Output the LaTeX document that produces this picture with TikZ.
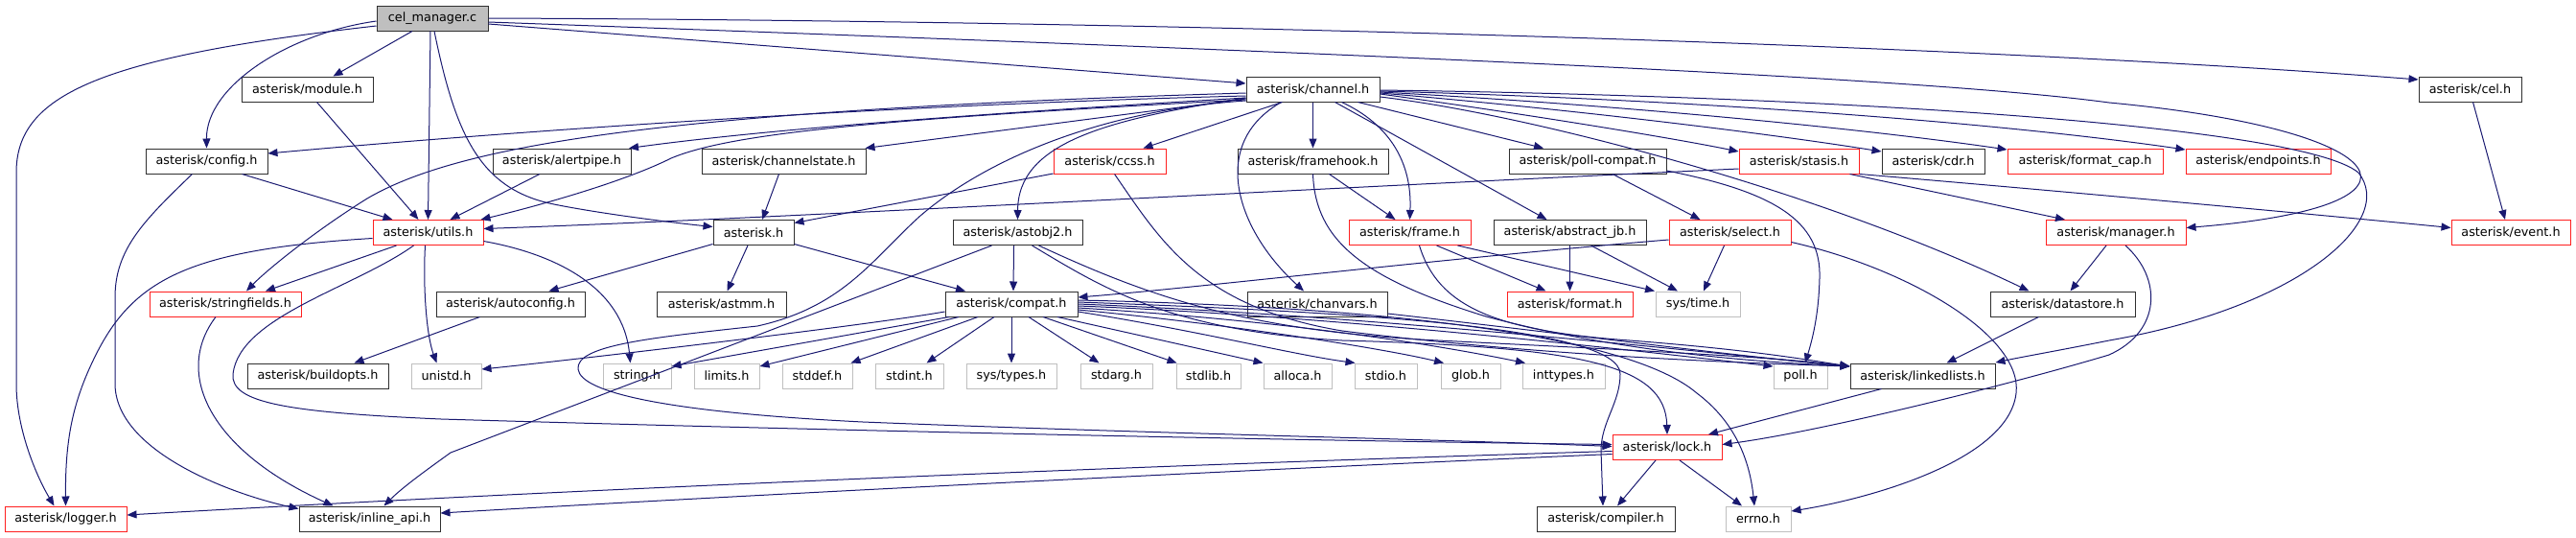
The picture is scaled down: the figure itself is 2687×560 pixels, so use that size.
\documentclass[tikz,border=0pt]{standalone}
\usepackage{fontspec}
\setmainfont{DejaVu Sans}
\usetikzlibrary{arrows.meta}
\definecolor{edgec}{HTML}{191970}
\definecolor{greyc}{HTML}{BFBFBF}
\definecolor{redc}{HTML}{FF2020}
\definecolor{blkc}{HTML}{303030}
\begin{document}
\begin{tikzpicture}[x=1pt,y=-1pt,
 box/.style={rectangle, inner sep=0pt, minimum height=26pt, line width=1pt, fill=white, font=\fontsize{12.8}{14}\selectfont},
 blk/.style={box, draw=blkc},
 redb/.style={box, draw=redc},
 grb/.style={box, draw=greyc},
 e/.style={draw=edgec, line width=1pt, -{Triangle[length=10pt,width=8pt]}},
]
\useasboundingbox (0,0) rectangle (2687,560);
% row 0
\node[blk, fill=greyc, minimum width=116pt] (cm) at (451,19) {cel\_manager.c};
% row 1
\node[blk, minimum width=137pt] (module) at (320.5,93) {asterisk/module.h};
\node[blk, minimum width=139pt] (channel) at (1369.5,93) {asterisk/channel.h};
\node[blk, minimum width=107pt] (cel) at (2576.5,93) {asterisk/cel.h};
% row 2
\node[blk, minimum width=127pt] (config) at (215.5,168) {asterisk/config.h};
\node[blk, minimum width=144pt] (alertpipe) at (586,168) {asterisk/alertpipe.h};
\node[blk, minimum width=171pt] (channelstate) at (817.5,168) {asterisk/channelstate.h};
\node[redb, minimum width=117pt] (ccss) at (1157.5,168) {asterisk/ccss.h};
\node[blk, minimum width=157pt] (framehook) at (1369.5,168) {asterisk/framehook.h};
\node[blk, minimum width=164pt] (pollcompat) at (1656,168) {asterisk/poll-compat.h};
\node[redb, minimum width=125pt] (stasis) at (1876.5,168) {asterisk/stasis.h};
\node[blk, minimum width=107pt] (cdr) at (2016.5,168) {asterisk/cdr.h};
\node[redb, minimum width=162pt] (formatcap) at (2175,168) {asterisk/format\_cap.h};
\node[redb, minimum width=151pt] (endpoints) at (2355.5,168) {asterisk/endpoints.h};
% row 3
\node[redb, minimum width=115pt] (utils) at (446.5,242.5) {asterisk/utils.h};
\node[blk, minimum width=84pt] (asterisk) at (786,242.5) {asterisk.h};
\node[blk, minimum width=135pt] (astobj2) at (1061.5,242.5) {asterisk/astobj2.h};
\node[redb, minimum width=127pt] (frame) at (1470.5,242.5) {asterisk/frame.h};
\node[blk, minimum width=159pt] (abstractjb) at (1637.5,242.5) {asterisk/abstract\_jb.h};
\node[redb, minimum width=127pt] (select) at (1804.5,242.5) {asterisk/select.h};
\node[redb, minimum width=146pt] (manager) at (2207,242.5) {asterisk/manager.h};
\node[redb, minimum width=124pt] (event) at (2619,242.5) {asterisk/event.h};
% row 4
\node[redb, minimum width=158pt] (stringfields) at (235,317) {asterisk/stringfields.h};
\node[blk, minimum width=155pt] (autoconfig) at (532.5,317) {asterisk/autoconfig.h};
\node[blk, minimum width=135pt] (astmm) at (752.5,317) {asterisk/astmm.h};
\node[blk, minimum width=138pt] (compat) at (1055,317) {asterisk/compat.h};
\node[blk, minimum width=146pt] (chanvars) at (1374,317) {asterisk/chanvars.h};
\node[redb, minimum width=131pt] (format) at (1637.5,317) {asterisk/format.h};
\node[grb, minimum width=88pt] (systime) at (1771,317) {sys/time.h};
\node[blk, minimum width=151pt] (datastore) at (2151.5,317) {asterisk/datastore.h};
% row 5
\node[blk, minimum width=147pt] (buildopts) at (331.5,392) {asterisk/buildopts.h};
\node[grb, minimum width=73pt] (unistd) at (465.5,392) {unistd.h};
\node[grb, minimum width=71pt] (string) at (664.5,392) {string.h};
\node[grb, minimum width=68pt] (limits) at (758,392) {limits.h};
\node[grb, minimum width=73pt] (stddef) at (852.5,392) {stddef.h};
\node[grb, minimum width=71pt] (stdint) at (948.5,392) {stdint.h};
\node[grb, minimum width=94pt] (systypes) at (1055,392) {sys/types.h};
\node[grb, minimum width=75pt] (stdarg) at (1164.5,392) {stdarg.h};
\node[grb, minimum width=67pt] (stdlib) at (1260.5,392) {stdlib.h};
\node[grb, minimum width=71pt] (alloca) at (1353.5,392) {alloca.h};
\node[grb, minimum width=65pt] (stdio) at (1445.5,392) {stdio.h};
\node[grb, minimum width=62pt] (glob) at (1534,392) {glob.h};
\node[grb, minimum width=86pt] (inttypes) at (1631,392) {inttypes.h};
\node[grb, minimum width=56pt] (poll) at (1878,392) {poll.h};
\node[blk, minimum width=151pt] (linkedlists) at (2005.5,392) {asterisk/linkedlists.h};
% row 6
\node[redb, minimum width=114pt] (lock) at (1739,466.5) {asterisk/lock.h};
% row 7
\node[redb, minimum width=127pt] (logger) at (68.5,541) {asterisk/logger.h};
\node[blk, minimum width=147pt] (inlineapi) at (385.5,541) {asterisk/inline\_api.h};
\node[blk, minimum width=144pt] (compiler) at (1675,541) {asterisk/compiler.h};
\node[grb, minimum width=68pt] (errno) at (1834,541) {errno.h};

% ---- edges from cel_manager.c
\draw[e] ([xshift=-21pt]cm.south) -- ([xshift=27pt]module.north);
\draw[e] ([yshift=-3pt]cm.west) .. controls (300,35) and (215,90) .. (config.north);
\draw[e] ([xshift=-2pt]cm.south) -- (utils.north);
\draw[e] ([xshift=2pt]cm.south) .. controls (475,140) and (500,195) .. (573,212) .. controls (620,222) and (700,232) .. ([yshift=6pt]asterisk.west);
\draw[e] ([yshift=-6pt]cm.east) -- ([yshift=6pt]channel.west);
\draw[e] (cm.east) .. controls (1300,22) and (2100,50) .. ([yshift=10pt]cel.west);
\draw[e] ([yshift=-4pt]cm.east) .. controls (1400,55) and (2000,80) .. (2200,107) .. controls (2500,135) and (2560,215) .. ([yshift=5pt]manager.east);
\draw[e] ([yshift=-8pt]cm.west) .. controls (100,60) and (17,100) .. (17,180) -- (17,400) .. controls (17,450) and (40,500) .. ([xshift=-12pt]logger.north);
% ---- module, config, alertpipe, channelstate
\draw[e] ([xshift=10pt]module.south) -- ([xshift=-10pt]utils.north);
\draw[e] ([xshift=37pt]config.south) -- ([xshift=-37pt]utils.north);
\draw[e] ([xshift=-15pt]config.south) .. controls (150,230) and (120,260) .. (120,310) -- (120,400) .. controls (120,470) and (240,515) .. ([yshift=-3pt]inlineapi.north west);
\draw[e] ([xshift=-23pt]alertpipe.south) -- ([xshift=23pt]utils.north);
\draw[e] ([xshift=-5pt]channelstate.south) -- ([xshift=9pt]asterisk.north);
% ---- utils
\draw[e] ([yshift=-6pt]utils.west) .. controls (200,260) and (140,290) .. (100,370) .. controls (75,420) and (68,460) .. (logger.north);
\draw[e] ([xshift=-33pt]utils.south) -- ([xshift=42pt]stringfields.north);
\draw[e] ([xshift=-3pt]utils.south) .. controls (441,300) and (445,350) .. ([xshift=-10pt]unistd.north);
\draw[e] ([yshift=-9pt]utils.east) .. controls (580,265) and (650,300) .. ([xshift=-7pt]string.north);
\draw[e] ([xshift=-15pt]utils.south) .. controls (370,300) and (250,330) .. (243,390) .. controls (240,420) and (300,430) .. (460,437) .. controls (900,450) and (1400,460) .. ([yshift=3pt]lock.west);
% ---- channel
\draw[e] ([yshift=-4pt]channel.west) .. controls (700,115) and (480,150) .. (383,207) .. controls (330,240) and (280,280) .. ([xshift=22pt]stringfields.north);
\draw[e] ([yshift=-7pt]channel.west) .. controls (900,110) and (500,140) .. ([yshift=8pt]config.east);
\draw[e] ([yshift=-9pt]channel.west) .. controls (1000,120) and (800,135) .. ([xshift=70pt]alertpipe.north);
\draw[e] ([yshift=-11pt]channel.west) .. controls (900,125) and (760,140) .. (700,165) .. controls (650,190) and (560,215) .. ([xshift=55pt]utils.north);
\draw[e] ([yshift=-10pt]channel.west) -- ([xshift=85pt]channelstate.north);
\draw[e] ([yshift=-9pt]channel.west) .. controls (1150,125) and (1062,150) .. (astobj2.north);
\draw[e] ([xshift=-32pt]channel.south) -- ([xshift=35pt]ccss.north);
\draw[e] (channel.south) -- (framehook.north);
\draw[e] ([xshift=30pt]channel.south) .. controls (1450,130) and (1473,170) .. (frame.north);
\draw[e] ([xshift=23pt]channel.south) -- ([xshift=-24pt]abstractjb.north);
\draw[e] ([xshift=47pt]channel.south) -- ([xshift=-46pt]pollcompat.north);
\draw[e] ([xshift=-33pt]channel.south) .. controls (1260,150) and (1290,240) .. ([xshift=-14pt]chanvars.north);
\draw[e] ([yshift=-5pt]channel.east) .. controls (1600,120) and (1750,145) .. ([yshift=10pt]stasis.west);
\draw[e] ([yshift=-4pt]channel.east) .. controls (1650,115) and (1850,140) .. ([yshift=10pt]cdr.west);
\draw[e] ([yshift=-3pt]channel.east) .. controls (1700,110) and (1950,135) .. ([yshift=12pt]formatcap.west);
\draw[e] ([yshift=-2pt]channel.east) .. controls (1800,105) and (2100,130) .. ([yshift=12pt]endpoints.west);
\draw[e] ([yshift=-1pt]channel.east) .. controls (1900,100) and (2400,130) .. (2460,180) .. controls (2500,230) and (2400,320) .. (2200,355) .. controls (2150,365) and (2110,372) .. ([yshift=14pt]linkedlists.east);
\draw[e] ([yshift=-8pt]channel.east) .. controls (1600,120) and (1900,200) .. ([xshift=-35pt]datastore.north);
\draw[e] ([yshift=-12pt]channel.west) .. controls (1150,115) and (1030,165) .. (960,225) .. controls (910,270) and (880,320) .. (790,340) .. controls (680,352) and (600,360) .. (603,385) .. controls (606,410) and (700,430) .. (900,440) .. controls (1200,452) and (1500,458) .. ([yshift=1pt]lock.west);
% ---- ccss
\draw[e] ([yshift=-13pt]ccss.west) -- ([yshift=10pt]asterisk.east);
\draw[e] ([xshift=5pt]ccss.south) .. controls (1210,250) and (1250,320) .. (1400,345) .. controls (1600,370) and (1800,378) .. ([yshift=10pt]linkedlists.west);
% ---- stasis
\draw[e] ([yshift=-8pt]stasis.west) .. controls (1300,200) and (800,228) .. ([yshift=4pt]utils.east);
\draw[e] ([xshift=53pt]stasis.south) -- ([xshift=-53pt]manager.north);
\draw[e] (stasis.south east) .. controls (2100,195) and (2400,222) .. ([yshift=5pt]event.west);
% ---- framehook
\draw[e] ([xshift=17pt]framehook.south) -- ([xshift=-15pt]frame.north);
\draw[e] (framehook.south) .. controls (1372,250) and (1420,290) .. (1550,330) .. controls (1700,370) and (1850,378) .. ([yshift=10pt]linkedlists.west);
% ---- frame
\draw[e] ([xshift=28pt]frame.south) -- ([xshift=-25pt]format.north);
\draw[e] ([xshift=50pt]frame.south) -- ([xshift=-45pt]systime.north);
\draw[e] ([xshift=10pt]frame.south) .. controls (1500,320) and (1560,345) .. (1700,355) .. controls (1830,365) and (1890,376) .. ([yshift=10pt]linkedlists.west);
% ---- abstract_jb
\draw[e] (abstractjb.south) -- (format.north);
\draw[e] ([xshift=22pt]abstractjb.south) -- ([xshift=-21pt]systime.north);
% ---- select
\draw[e] ([xshift=-6pt]select.south) -- ([xshift=6pt]systime.north);
\draw[e] ([yshift=-7.5pt]select.west) .. controls (1500,270) and (1250,300) .. ([yshift=7pt]compat.east);
\draw[e] ([yshift=-10pt]select.east) .. controls (1990,280) and (2110,350) .. (2103,410) .. controls (2095,480) and (1950,520) .. ([yshift=8pt]errno.east);
% ---- poll-compat
\draw[e] ([xshift=26pt]pollcompat.south) -- ([xshift=-31pt]select.north);
\draw[e] ([yshift=-10pt]pollcompat.east) .. controls (1850,200) and (1900,230) .. (1898,290) .. controls (1897,330) and (1890,355) .. ([xshift=5pt]poll.north);
% ---- cel, manager, datastore, linkedlists, chanvars
\draw[e] ([xshift=3pt]cel.south) -- ([xshift=-6pt]event.north);
\draw[e] ([xshift=-10pt]manager.south) -- ([xshift=8pt]datastore.north);
\draw[e] ([xshift=10pt]manager.south) .. controls (2255,290) and (2255,345) .. (2200,370) .. controls (2100,400) and (1900,450) .. ([yshift=3pt]lock.east);
\draw[e] ([xshift=-25pt]datastore.south) -- ([xshift=25pt]linkedlists.north);
\draw[e] ([xshift=-43pt]linkedlists.south) -- ([xshift=43pt]lock.north);
\draw[e] ([yshift=-10pt]chanvars.east) .. controls (1650,350) and (1800,370) .. ([yshift=10pt]linkedlists.west);
% ---- astobj2
\draw[e] ([xshift=-27pt]astobj2.south) -- (470,472) .. controls (445,490) and (420,508) .. ([xshift=15pt]inlineapi.north);
\draw[e] ([xshift=-4pt]astobj2.south) -- ([xshift=2pt]compat.north);
\draw[e] ([xshift=15pt]astobj2.south) .. controls (1150,300) and (1220,345) .. (1400,355) .. controls (1650,362) and (1737,380) .. (lock.north);
\draw[e] ([xshift=22pt]astobj2.south) .. controls (1200,310) and (1300,345) .. (1500,355) .. controls (1700,365) and (1850,372) .. ([yshift=10pt]linkedlists.west);
% ---- asterisk.h
\draw[e] ([yshift=-12pt]asterisk.east) -- ([xshift=-48pt]compat.north);
\draw[e] ([yshift=-12pt]asterisk.west) -- ([xshift=40pt]autoconfig.north);
\draw[e] ([xshift=-6pt]asterisk.south) -- ([xshift=6pt]astmm.north);
\draw[e] ([xshift=-32pt]autoconfig.south) -- ([xshift=38pt]buildopts.north);
\draw[e] ([xshift=-10pt]stringfields.south) .. controls (180,390) and (220,470) .. ([xshift=-38pt]inlineapi.north);
% ---- compat
\draw[e] ([yshift=-8pt]compat.west) .. controls (900,340) and (600,375) .. ([yshift=7pt]unistd.east);
\draw[e] ([xshift=-65pt]compat.south) -- ([yshift=10pt]string.east);
\draw[e] ([xshift=-55pt]compat.south) -- ([yshift=10pt]limits.east);
\draw[e] ([xshift=-35pt]compat.south) -- ([xshift=35pt]stddef.north);
\draw[e] ([xshift=-18pt]compat.south) -- ([xshift=18pt]stdint.north);
\draw[e] (compat.south) -- (systypes.north);
\draw[e] ([xshift=18pt]compat.south) -- ([xshift=-18pt]stdarg.north);
\draw[e] ([xshift=33pt]compat.south) -- ([xshift=-33pt]stdlib.north);
\draw[e] ([xshift=48pt]compat.south) -- ([xshift=-36pt]alloca.north);
\draw[e] ([yshift=-8pt]compat.east) .. controls (1250,345) and (1350,370) .. ([xshift=-32pt]stdio.north);
\draw[e] ([yshift=-6pt]compat.east) .. controls (1300,340) and (1450,365) .. ([xshift=-28pt]glob.north);
\draw[e] ([yshift=-4pt]compat.east) .. controls (1350,335) and (1500,360) .. ([xshift=-40pt]inttypes.north);
\draw[e] ([yshift=-2pt]compat.east) .. controls (1400,330) and (1700,365) .. ([yshift=10pt]poll.west);
\draw[e] (compat.east) .. controls (1450,330) and (1800,370) .. ([yshift=10pt]linkedlists.west);
\draw[e] ([yshift=2pt]compat.east) .. controls (1400,325) and (1690,340) .. (1690,390) .. controls (1690,420) and (1670,440) .. (1670,470) -- ([xshift=-3pt]compiler.north);
\draw[e] ([yshift=4pt]compat.east) .. controls (1450,320) and (1700,350) .. (1770,410) .. controls (1810,440) and (1825,480) .. ([xshift=-4pt]errno.north);
% ---- lock
\draw[e] ([yshift=-4pt]lock.west) .. controls (1200,485) and (600,510) .. ([yshift=4pt]logger.east);
\draw[e] ([yshift=-7pt]lock.west) .. controls (1300,490) and (800,515) .. ([yshift=6pt]inlineapi.east);
\draw[e] ([xshift=-12pt]lock.south) -- ([xshift=12pt]compiler.north);
\draw[e] ([xshift=13pt]lock.south) -- ([xshift=-17pt]errno.north);
\end{tikzpicture}
\end{document}
